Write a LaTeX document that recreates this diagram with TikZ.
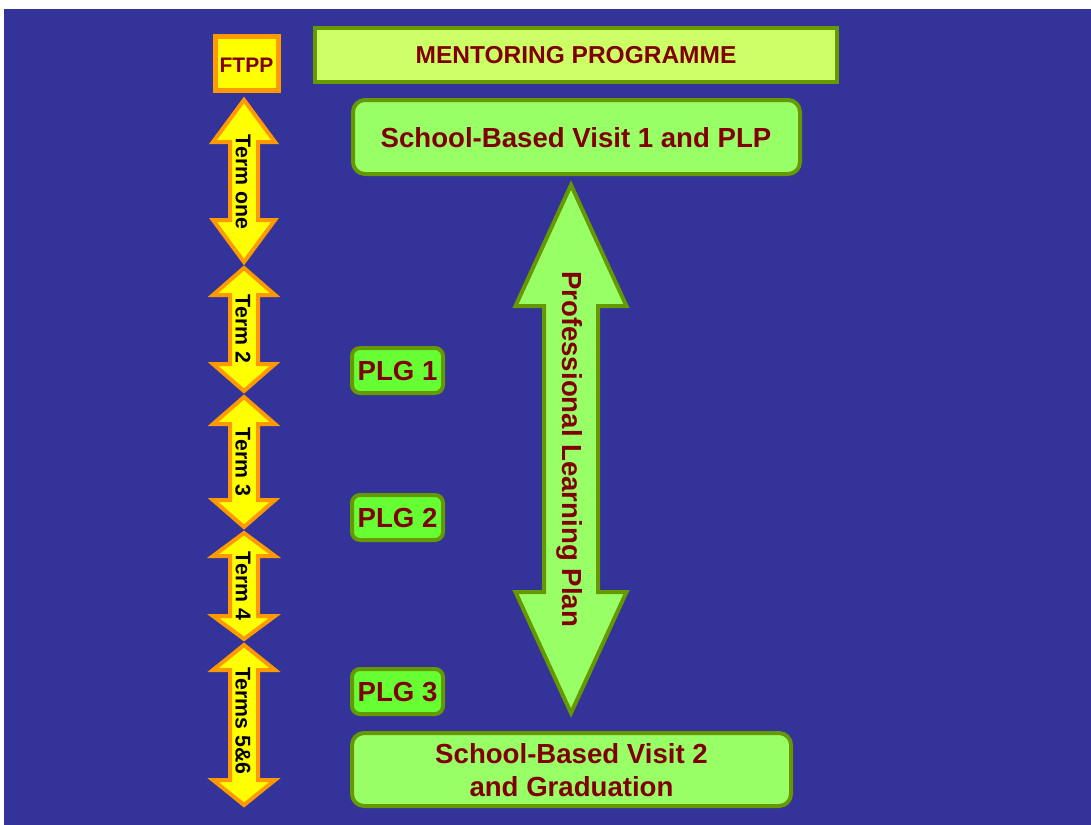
\documentclass[tikz,border=0pt]{standalone}
\usepackage{fontspec}
\setmainfont{Liberation Sans}
\definecolor{bgblue}{HTML}{333399}
\definecolor{txtred}{HTML}{800000}
\definecolor{boxgreen}{HTML}{99FF66}
\definecolor{titlegreen}{HTML}{CCFF66}
\definecolor{plggreen}{HTML}{66FF33}
\definecolor{edgegreen}{HTML}{669900}
\definecolor{termyellow}{HTML}{FFFF00}
\definecolor{termorange}{HTML}{FF9900}
% #1 style, #2 xc, #3 ytop, #4 ybot, #5 headlen, #6 head half width, #7 shaft half width
\newcommand\vdarrow[7]{%
  \draw[#1] (#2,#3) -- ({#2+#6},{#3+#5}) -- ({#2+#7},{#3+#5}) -- ({#2+#7},{#4-#5})
    -- ({#2+#6},{#4-#5}) -- (#2,#4) -- ({#2-#6},{#4-#5}) -- ({#2-#7},{#4-#5})
    -- ({#2-#7},{#3+#5}) -- ({#2-#6},{#3+#5}) -- cycle;}
\tikzset{
  termarrow/.style={fill=termyellow, draw=termorange, line width=4bp, line join=miter},
  bigarrow/.style={fill=boxgreen, draw=edgegreen, line width=4bp, line join=miter},
  termlabel/.style={rotate=-90, inner sep=0pt, text=black, font=\fontsize{21.3bp}{25bp}\selectfont\bfseries},
  redtext/.style={text=txtred, font=\fontsize{27.6bp}{33.3bp}\selectfont\bfseries},
  titlebox/.style={fill=titlegreen, draw=edgegreen, line width=4bp},
  visitbox/.style={fill=boxgreen, draw=edgegreen, line width=4bp, rounded corners=12bp},
  plgbox/.style={fill=plggreen, draw=edgegreen, line width=4bp, rounded corners=8bp},
  ftppbox/.style={fill=termyellow, draw=termorange, line width=5bp},
}
\begin{document}
\begin{tikzpicture}[x=1bp, y=-1bp]
\useasboundingbox (0,0) rectangle (1091,825);
\fill[white] (0,0) rectangle (1091,825);
\fill[bgblue] (4,9) rectangle (1091,825);

% FTPP
\draw[ftppbox] (215.5,36.5) rectangle (278.5,90.5);
\node[text=txtred, font=\fontsize{21bp}{24bp}\selectfont\bfseries, inner sep=0pt] (ftpp) at (246.5,65) {FTPP};

% Title
\draw[titlebox] (315,28) rectangle (837,82);
\node[text=txtred, font=\fontsize{24.5bp}{29bp}\selectfont\bfseries, inner sep=0pt] (title) at (576,55.5) {MENTORING PROGRAMME};

% School-based visit 1
\draw[visitbox] (353,100) rectangle (800,174);
\node[redtext, inner sep=0pt] (sbv1) at (576,138) {School-Based Visit 1 and PLP};

% School-based visit 2
\draw[visitbox] (352,733) rectangle (791,806);
\node[redtext, align=center, inner sep=0pt] (sbv2) at (571.5,770) {School-Based Visit 2\\and Graduation};

% PLG boxes
\draw[plgbox] (352,348) rectangle (443,393);
\node[redtext, inner sep=0pt] (plg1) at (397.5,371) {PLG 1};
\draw[plgbox] (352,495) rectangle (443,540);
\node[redtext, inner sep=0pt] (plg2) at (397.5,518) {PLG 2};
\draw[plgbox] (352,669) rectangle (443,714);
\node[redtext, inner sep=0pt] (plg3) at (397.5,692) {PLG 3};

% Term arrows
\vdarrow{termarrow}{244}{100}{262}{42}{31}{14}
\node[termlabel] (t1) at (243,182) {Term one};
\vdarrow{termarrow}{244}{268}{391}{27}{31}{14}
\node[termlabel] (t2) at (243,329) {Term 2};
\vdarrow{termarrow}{244}{397}{527}{27}{31}{14}
\node[termlabel] (t3) at (243,462) {Term 3};
\vdarrow{termarrow}{244}{533}{639}{23}{31}{14}
\node[termlabel] (t4) at (243,586) {Term 4};
\vdarrow{termarrow}{244}{645}{805}{25}{31}{14}
\node[termlabel] (t5) at (243,721) {Terms 5\&6};

% Big double arrow
\vdarrow{bigarrow}{571}{185}{713}{121}{55.5}{27}
\node[redtext, rotate=-90, inner sep=0pt] (plp) at (570,449) {Professional Learning Plan};
\end{tikzpicture}
\end{document}
